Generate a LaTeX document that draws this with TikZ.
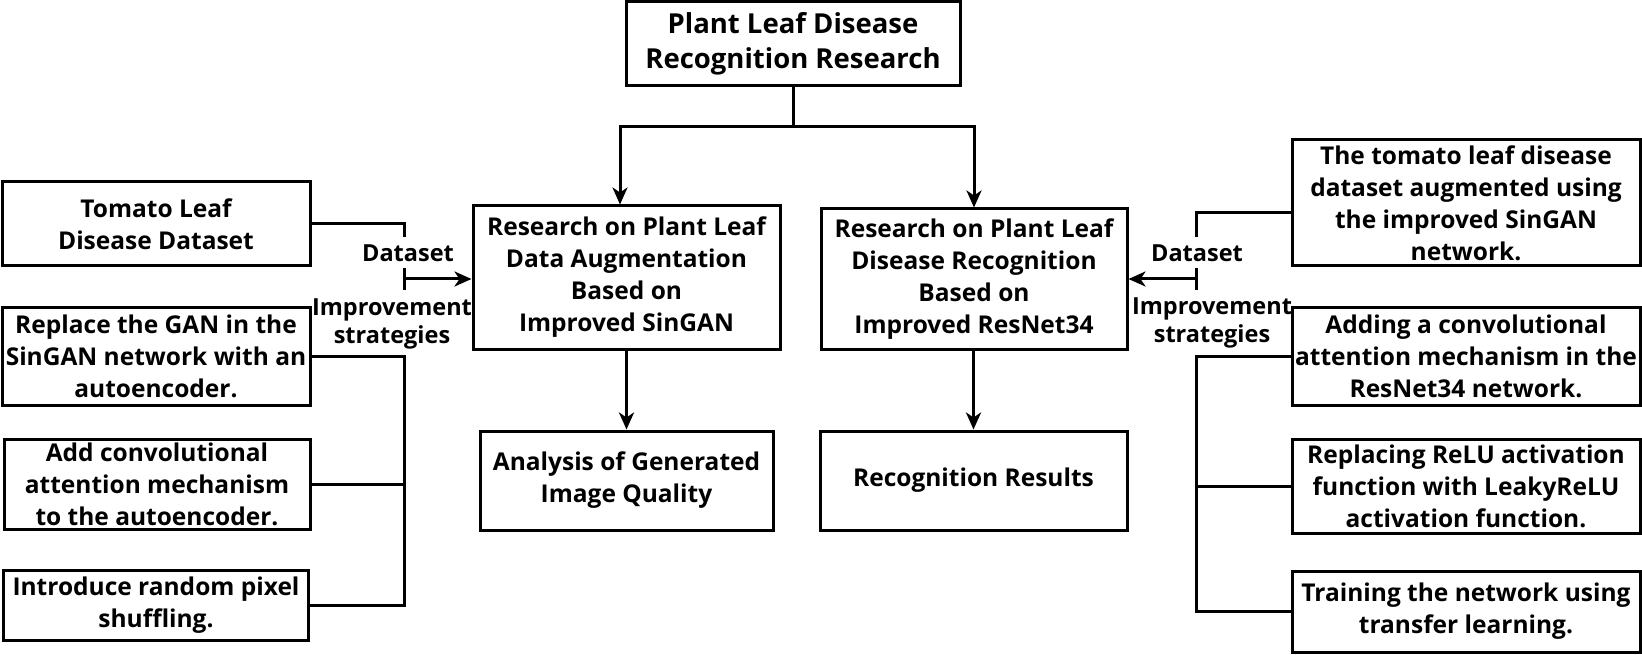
\documentclass[tikz,border=0pt]{standalone}
\usepackage{fontspec}
\setmainfont{Open Sans}
\usetikzlibrary{arrows.meta}
\newcommand\boxfont{\fontsize{24.5}{32}\selectfont\bfseries}
\newcommand\titlefont{\fontsize{27.5}{35}\selectfont\bfseries}
\newcommand\lblfont{\fontsize{23.5}{28}\selectfont\bfseries}
\begin{document}
\begin{tikzpicture}[x=1pt,y=-1pt,
  box/.style={draw, line width=3pt, inner sep=0pt, align=center, font=\boxfont},
  conn/.style={line width=3pt},
  arr/.style={line width=3pt, -{Stealth[length=17pt,width=15pt,inset=5pt]}},
  lbl/.style={inner sep=0pt, align=center, font=\lblfont}]
\fill[white] (0,0) rectangle (1642,655);
\useasboundingbox (0,0) rectangle (1642,655);

% boxes
\node[box, font=\titlefont, minimum width=334pt, minimum height=84pt] (top) at (793,44) {Plant Leaf Disease\\Recognition Research};
\node[box, minimum width=308pt, minimum height=84pt] (L1) at (156,224) {Tomato Leaf\\Disease Dataset};
\node[box, minimum width=308pt, minimum height=98pt] (L2) at (156,356) {Replace the GAN in the\\SinGAN network with an\\autoencoder.};
\node[box, minimum width=306pt, minimum height=90pt] (L3) at (157,484) {Add convolutional\\attention mechanism\\to the autoencoder.};
\node[box, minimum width=305pt, minimum height=70pt] (L4) at (156,605) {Introduce random pixel\\shuffling.};
\node[box, minimum width=307pt, minimum height=143pt] (ML) at (626.5,277.5) {Research on Plant Leaf\\Data Augmentation\\Based on\\Improved SinGAN};
\node[box, minimum width=306pt, minimum height=140pt] (MR) at (974,279) {Research on Plant Leaf\\Disease Recognition\\Based on\\Improved ResNet34};
\node[box, minimum width=293pt, minimum height=99pt] (AN) at (626.5,480.5) {Analysis of Generated\\Image Quality};
\node[box, minimum width=307pt, minimum height=99pt] (RS) at (973.5,480.5) {Recognition Results};
\node[box, minimum width=348pt, minimum height=126pt] (R1) at (1466,203) {The tomato leaf disease\\dataset augmented using\\the improved SinGAN\\network.};
\node[box, minimum width=348pt, minimum height=98pt] (R2) at (1466,356) {Adding a convolutional\\attention mechanism in the\\ResNet34 network.};
\node[box, minimum width=348pt, minimum height=94pt] (R3) at (1466,486) {Replacing ReLU activation\\function with LeakyReLU\\activation function.};
\node[box, minimum width=348pt, minimum height=81pt] (R4) at (1466,611.5) {Training the network using\\transfer learning.};

% labels
\node[lbl] (dsl) at (408,253) {Dataset};
\node[lbl] (isl) at (392,324) {Improvement\\strategies};
\node[lbl] (dsr) at (1197,253) {Dataset};
\node[lbl] (isr) at (1212,323) {Improvement\\strategies};

% top split
\coordinate (jt) at (793,127);
\draw[conn] (top.south) -- (jt);
\draw[arr] (jt) -| ([xshift=-6.5pt]ML.north);
\draw[arr] (jt) -| (MR.north);
\draw[arr] (ML.south) -- (AN.north);
\draw[arr] (MR.south -| RS.north) -- (RS.north);

% left brackets
\coordinate (lbx) at (404,0);
\coordinate (ldup) at (404,237);
\coordinate (ltick) at (404,279);
\draw[conn] (L1.east) -| (ldup);
\draw[conn] ([yshift=-11pt]ltick) -- ([yshift=11pt]ltick);
\draw[arr] (ltick) -- (ltick -| ML.west);
\draw[conn] (L2.east) -| (L4.east -| lbx) -- (L4.east);
\draw[conn] (L3.east) -- (L3.east -| lbx);

% right brackets
\coordinate (rbx) at (1196,0);
\coordinate (rdup) at (1196,237);
\coordinate (rtick) at (1196,279);
\draw[conn] (R1.west |- 0,213) -| (rdup);
\draw[conn] ([yshift=-11pt]rtick) -- ([yshift=11pt]rtick);
\draw[arr] (rtick) -- (rtick -| MR.east);
\draw[conn] (R2.west) -| (R4.west -| rbx) -- (R4.west);
\draw[conn] (R3.west) -- (R3.west -| rbx);
\end{tikzpicture}
\end{document}
